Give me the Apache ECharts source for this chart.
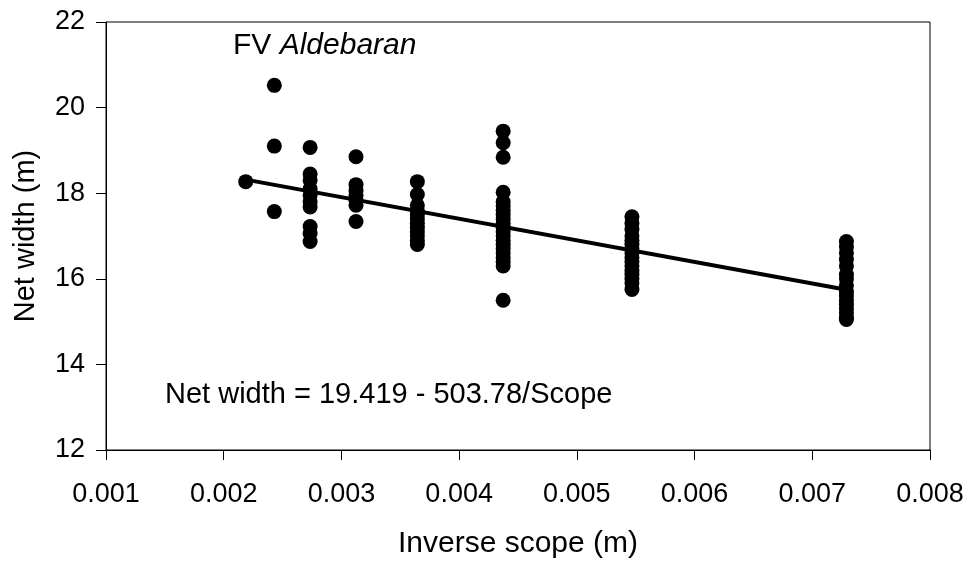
<!DOCTYPE html>
<html>
<head>
<meta charset="utf-8">
<script src="https://cdn.jsdelivr.net/npm/echarts@6/dist/echarts.min.js"></script>
<style>
html,body{margin:0;padding:0;background:#fff;}
#chart{width:973px;height:564px;}
</style>
</head>
<body>
<div id="chart"></div>
<script>
// Inverse scope (1/m) for each scope group
const inverseScope = [0.002187, 0.00243, 0.002734, 0.003124, 0.003645, 0.004374, 0.005468, 0.00729];
// Net width (m) observations for each group
const width0 = [18.27];
const width1 = [20.52, 19.1, 17.57];
const width2 = [19.07, 18.45, 18.3, 18.1, 17.95, 17.8, 17.68, 17.22, 17.06, 16.87];
const width3 = [18.85, 18.2, 18.06, 17.95, 17.83, 17.72, 17.34];
const width4 = [18.27, 17.97, 17.72, 17.6, 17.5, 17.4, 17.3, 17.2, 17.1, 17.0, 16.9, 16.8];
const width5 = [19.45, 19.18, 18.84, 18.02, 17.8, 17.7, 17.6, 17.5, 17.4, 17.3, 17.2, 17.1, 17.0, 16.9, 16.8, 16.7, 16.6, 16.5, 16.4, 16.3, 15.5];
const width6 = [17.45, 17.3, 17.15, 17.0, 16.9, 16.8, 16.7, 16.6, 16.5, 16.4, 16.3, 16.2, 16.1, 16.0, 15.9, 15.75];
const width7 = [16.87, 16.75, 16.6, 16.45, 16.3, 16.1, 16.0, 15.85, 15.7, 15.6, 15.5, 15.4, 15.3, 15.2, 15.1, 15.05];
const widthGroups = [width0, width1, width2, width3, width4, width5, width6, width7];
// Fitted line end points: Net width = 19.419 - 503.78/Scope
const fitX = [0.002187, 0.00729];
const fitY = [18.317, 15.746];
const xTicks = ['0.001','0.002','0.003','0.004','0.005','0.006','0.007','0.008'];
const yTicks = ['12','14','16','18','20','22'];

const scatterData = [];
widthGroups.forEach((g, i) => g.forEach(v => scatterData.push([inverseScope[i], v])));
const lineData = fitX.map((x, i) => [x, fitY[i]]);

const FONT = '"Liberation Sans", Arial, sans-serif';
const chart = echarts.init(document.getElementById('chart'), null, {renderer: 'canvas'});
chart.setOption({
  animation: false,
  backgroundColor: '#fff',
  grid: {left: 106, right: 43, top: 22, bottom: 111, show: true, borderColor: '#000', borderWidth: 1, backgroundColor: 'transparent'},
  xAxis: {
    type: 'value', min: 0.001, max: 0.008, interval: 0.001,
    name: 'Inverse scope (m)', nameLocation: 'middle', nameGap: 79,
    nameTextStyle: {fontSize: 30, color: '#000', fontFamily: FONT},
    axisLine: {show: true, lineStyle: {color: '#000', width: 1}},
    axisTick: {show: true, length: 10, lineStyle: {color: '#000'}},
    axisLabel: {fontSize: 27, color: '#000', fontFamily: FONT, margin: 31,
      formatter: v => xTicks[Math.round((v - 0.001) / 0.001)] || ''},
    splitLine: {show: false}
  },
  yAxis: {
    type: 'value', min: 12, max: 22, interval: 2,
    name: 'Net width (m)', nameLocation: 'middle', nameGap: 66, nameRotate: 90,
    nameTextStyle: {fontSize: 29, color: '#000', fontFamily: FONT},
    axisLine: {show: true, lineStyle: {color: '#000', width: 1}},
    axisTick: {show: true, length: 10, lineStyle: {color: '#000'}},
    axisLabel: {fontSize: 27, color: '#000', fontFamily: FONT, margin: 21,
      formatter: v => yTicks[Math.round((v - 12) / 2)] || ''},
    splitLine: {show: false}
  },
  series: [
    {type: 'scatter', data: scatterData, symbol: 'circle', symbolSize: 15,
     itemStyle: {color: '#000', opacity: 1}, z: 3},
    {type: 'line', data: lineData, showSymbol: false, symbol: 'none',
     lineStyle: {color: '#000', width: 4}, z: 4}
  ],
  graphic: [
    {type: 'text', left: 233, top: 31, style: {
      text: '{a|FV }{b|Aldebaran}',
      rich: {a: {fontSize: 30, fontFamily: FONT, fill: '#000'},
             b: {fontSize: 30, fontFamily: FONT, fontStyle: 'italic', fill: '#000'}}
    }},
    {type: 'text', left: 165, top: 380, style: {
      text: 'Net width = 19.419 - 503.78/Scope', fontSize: 29, fontFamily: FONT, fill: '#000'
    }}
  ]
});
</script>
</body>
</html>
